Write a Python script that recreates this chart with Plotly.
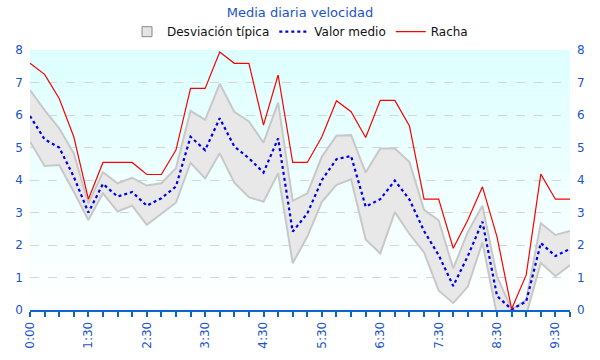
import plotly.graph_objects as go

# ---- data ----
categories = ["0:00", "0:30", "0:45", "1:15", "1:30", "1:45", "2:00", "2:15",
              "2:30", "2:45", "3:00", "3:15", "3:30", "3:45", "4:00", "4:15",
              "4:30", "4:45", "5:00", "5:15", "5:30", "5:45", "6:00", "6:15",
              "6:30", "6:45", "7:00", "7:15", "7:30", "7:45", "8:00", "8:15",
              "8:30", "8:45", "9:00", "9:15", "9:30", "9:45"]

valor_medio = [5.97, 5.25, 5.00, 4.10, 3.00, 3.88, 3.49, 3.63, 3.21, 3.44,
               3.80, 5.33, 4.92, 5.90, 5.03, 4.67, 4.23, 5.28, 2.41, 2.97,
               4.00, 4.64, 4.74, 3.18, 3.41, 3.98, 3.40, 2.43, 1.69, 0.74,
               1.66, 2.72, 0.43, 0.02, 0.26, 2.06, 1.66, 1.88]

desv_sup = [6.77, 6.15, 5.59, 4.82, 3.28, 4.24, 3.90, 4.07, 3.83, 3.90,
            4.36, 6.13, 5.85, 6.96, 6.10, 5.80, 5.15, 6.38, 3.36, 3.59,
            4.72, 5.36, 5.38, 4.23, 4.97, 4.97, 4.55, 3.08, 2.76, 1.28,
            2.40, 3.21, 1.03, 0.02, 0.31, 2.67, 2.31, 2.43]

desv_inf = [5.18, 4.43, 4.46, 3.64, 2.77, 3.59, 3.03, 3.21, 2.62, 2.97,
            3.30, 4.53, 4.05, 4.82, 3.92, 3.47, 3.33, 4.21, 1.44, 2.26,
            3.33, 3.85, 4.02, 2.17, 1.74, 3.01, 2.34, 1.77, 0.60, 0.21,
            0.72, 2.08, -0.17, 0.02, -0.15, 1.45, 1.04, 1.38]

racha = [7.59, 7.25, 6.51, 5.33, 3.41, 4.54, 4.54, 4.54, 4.17, 4.17,
         4.92, 6.82, 6.82, 7.94, 7.59, 7.59, 5.69, 7.23, 4.54, 4.54,
         5.33, 6.44, 6.10, 5.31, 6.45, 6.45, 5.66, 3.41, 3.41, 1.90,
         2.77, 3.79, 2.25, 0.03, 1.08, 4.18, 3.41, 3.41]

y_ticks = [0, 1, 2, 3, 4, 5, 6, 7, 8]
x_ticktext = [c if i % 4 == 0 else "" for i, c in enumerate(categories)]

# ---- styles ----
FONT = "DejaVu Sans"
BLUE_TXT = "#1a55cc"
AXIS_BLUE = "#0a66cc"

fig = go.Figure()

# legend proxy for the standard-deviation band (square icon)
fig.add_trace(go.Scatter(
    x=[None], y=[None], mode="markers", name="Desviación típica",
    marker=dict(symbol="square", size=10, color="#e4e4e4",
                line=dict(color="#8a8a8a", width=1)),
    hoverinfo="skip"))
fig.add_trace(go.Scatter(
    x=categories, y=desv_inf, mode="lines",
    line=dict(color="#c8c8c8", width=2),
    showlegend=False, hoverinfo="skip"))
fig.add_trace(go.Scatter(
    x=categories, y=desv_sup, mode="lines", name="Desviación típica",
    line=dict(color="#c8c8c8", width=2), showlegend=False,
    fill="tonexty", fillcolor="#e8e8e8"))
fig.add_trace(go.Scatter(
    x=categories, y=valor_medio, mode="lines", name="Valor medio",
    line=dict(color="#0000ee", width=2.2, dash="3px,3px")))
fig.add_trace(go.Scatter(
    x=categories, y=racha, mode="lines", name="Racha",
    line=dict(color="#ff0000", width=1.2), yaxis="y2"))

# gradient background (cyan at top fading to white)
n_bands = 60
shapes = []
for k in range(n_bands):
    t = k / (n_bands - 1)  # 0 bottom, 1 top
    r = round(255 - 35 * t)
    shapes.append(dict(
        type="rect", xref="paper", yref="paper",
        x0=0, x1=1, y0=k / n_bands, y1=(k + 1) / n_bands,
        fillcolor=f"rgb({r},255,255)", line=dict(width=0), layer="below"))

fig.update_layout(
    width=600, height=360,
    margin=dict(l=30, r=30, t=50, b=50, autoexpand=False),
    paper_bgcolor="white", plot_bgcolor="rgba(0,0,0,0)",
    shapes=shapes,
    font=dict(family=FONT, size=12, color=BLUE_TXT),
    title=dict(text="Media diaria velocidad", x=0.5, xanchor="center",
               y=0.966, yanchor="middle", yref="container",
               font=dict(family=FONT, size=13, color=BLUE_TXT)),
    legend=dict(orientation="h", x=0.5, xanchor="center", y=0.912,
                yanchor="middle", yref="container", traceorder="normal",
                font=dict(family=FONT, size=12, color="#111111"),
                bgcolor="rgba(0,0,0,0)", itemwidth=30, tracegroupgap=0),
    showlegend=True,
    xaxis=dict(type="category", range=[0, len(categories) - 1],
               tickmode="array", tickvals=categories, ticktext=x_ticktext,
               tickangle=-90, ticks="outside", ticklen=5, tickwidth=1.5,
               tickcolor=AXIS_BLUE, showline=True, linecolor=AXIS_BLUE,
               linewidth=2, showgrid=False, zeroline=False, automargin=False,
               tickfont=dict(family=FONT, size=12, color=BLUE_TXT)),
    yaxis=dict(range=[0, 8], tickvals=y_ticks, showgrid=True,
               gridcolor="#d6d6d6", griddash="dash", gridwidth=1,
               zeroline=False, showline=False, ticks="", automargin=False,
               ticklabelstandoff=6,
               tickfont=dict(family=FONT, size=12, color=BLUE_TXT)),
    yaxis2=dict(range=[0, 8], tickvals=y_ticks, overlaying="y", side="right",
                showgrid=False, zeroline=False, showline=False, ticks="",
                automargin=False, ticklabelstandoff=6,
                tickfont=dict(family=FONT, size=12, color=BLUE_TXT)),
)

fig.write_html("out.html", config={"displayModeBar": False},
               post_script="document.body.style.margin='0';")
